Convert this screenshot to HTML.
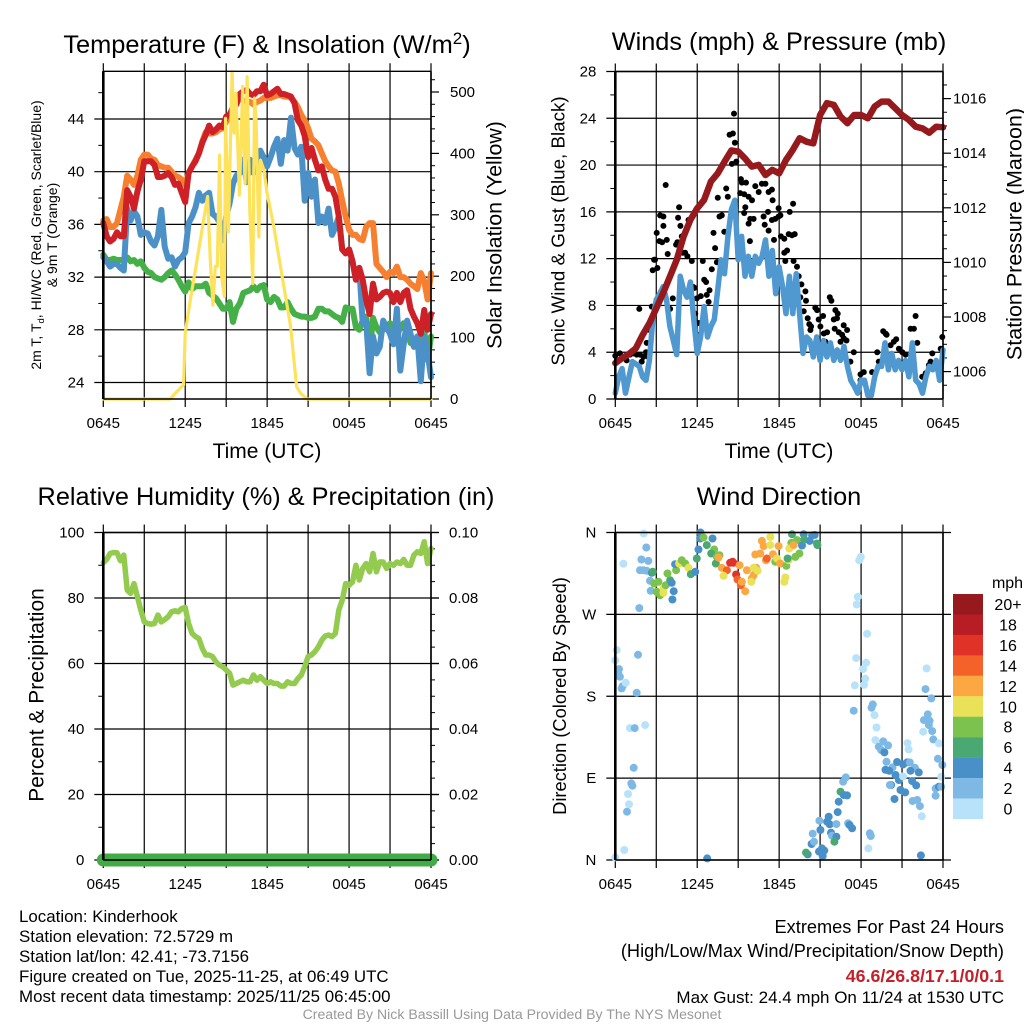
<!DOCTYPE html>
<html lang="en">
<head>
<meta charset="utf-8">
<title>Kinderhook Meteogram</title>
<style>
html,body{margin:0;padding:0;background:#fff;width:1024px;height:1024px;overflow:hidden}
svg{display:block}
text{font-family:"Liberation Sans",sans-serif;fill:#000}
</style>
</head>
<body>
<svg id="chart" xmlns="http://www.w3.org/2000/svg" width="1024" height="1024" viewBox="0 0 1024 1024">
<rect x="0" y="0" width="1024" height="1024" fill="#fff"/>

<text x="267" y="53" font-size="25.4" text-anchor="middle">Temperature (F) &amp; Insolation (W/m<tspan font-size="17" dy="-9">2</tspan><tspan dy="9">)</tspan></text>
<text x="779" y="50" font-size="25.3" text-anchor="middle">Winds (mph) &amp; Pressure (mb)</text>
<text x="266" y="505" font-size="25.3" text-anchor="middle">Relative Humidity (%) &amp; Precipitation (in)</text>
<text x="779" y="505" font-size="25.3" text-anchor="middle">Wind Direction</text>

<text transform="translate(41,235) rotate(-90)" font-size="14" text-anchor="middle">2m T, T<tspan font-size="9.5" dy="3">d</tspan><tspan dy="-3">, HI/WC (Red, Green, Scarlet/Blue)</tspan></text>
<text transform="translate(57,235) rotate(-90)" font-size="14" text-anchor="middle">&amp; 9m T (Orange)</text>
<text transform="translate(501.5,235) rotate(-90)" font-size="21.3" text-anchor="middle">Solar Insolation (Yellow)</text>
<text transform="translate(564.5,231) rotate(-90)" font-size="18.8" text-anchor="middle">Sonic Wind &amp; Gust (Blue, Black)</text>
<text transform="translate(1021.5,234) rotate(-90)" font-size="21.5" text-anchor="middle">Station Pressure (Maroon)</text>
<text transform="translate(43.5,695) rotate(-90)" font-size="21" text-anchor="middle">Percent &amp; Precipitation</text>
<text transform="translate(566,696) rotate(-90)" font-size="18.3" text-anchor="middle">Direction (Colored By Speed)</text>
<text x="267" y="458" font-size="21" text-anchor="middle">Time (UTC)</text>
<text x="779" y="458" font-size="21" text-anchor="middle">Time (UTC)</text>

<g id="panel-temp"></g>
<g id="panel-wind"></g>
<g id="panel-rh"></g>
<g id="panel-dir"></g>
<g id="legend"></g>

<g font-size="16.9">
<text x="19" y="922">Location: Kinderhook</text>
<text x="19" y="942">Station elevation: 72.5729 m</text>
<text x="19" y="962">Station lat/lon: 42.41; -73.7156</text>
<text x="19" y="982">Figure created on Tue, 2025-11-25, at 06:49 UTC</text>
<text x="19" y="1002">Most recent data timestamp: 2025/11/25 06:45:00</text>
</g>
<g text-anchor="end">
<text x="1004" y="933" font-size="18.2">Extremes For Past 24 Hours</text>
<text x="1004" y="957" font-size="18.2">(High/Low/Max Wind/Precipitation/Snow Depth)</text>
<text x="1004" y="982" font-size="17.8" font-weight="bold" style="fill:#c3202a">46.6/26.8/17.1/0/0.1</text>
<text x="1004" y="1003" font-size="17">Max Gust: 24.4 mph On 11/24 at 1530 UTC</text>
</g>
<text x="512" y="1019" font-size="14.1" text-anchor="middle" style="fill:#999">Created By Nick Bassill Using Data Provided By The NYS Mesonet</text>
</svg>

<script>
const timeLabels = ['0645', '1245', '1845', '0045', '0645'];
const timeLabelHours = [0, 6, 12, 18, 24];
const gridHours = [0, 3, 6, 9, 12, 15, 18, 21, 24];

const tempTicks = [24, 28, 32, 36, 40, 44];
const tempMinorTicks = [26, 30, 34, 38, 42, 46];
const solarTicks = [0, 100, 200, 300, 400, 500];
const solarMinorTicks = [20,40,60,80,120,140,160,180,220,240,260,280,320,340,360,380,420,440,460,480,520];
const windTicks = [0, 4, 8, 12, 16, 20, 24, 28];
const windMinorTicks = [2, 6, 10, 14, 18, 22, 26];
const pressureTicks = [1006, 1008, 1010, 1012, 1014, 1016];
const pressureMinorTicks = [1005.5,1006.5,1007,1007.5,1008.5,1009,1009.5,1010.5,1011,1011.5,1012.5,1013,1013.5,1014.5,1015,1015.5,1016.5];
const rhTicks = [0, 20, 40, 60, 80, 100];
const rhMinorTicks = [10, 30, 50, 70, 90];
const precipTicks = ['0.00', '0.02', '0.04', '0.06', '0.08', '0.10'];
const precipMinorTicks = [0.005,0.01,0.015,0.025,0.03,0.035,0.045,0.05,0.055,0.065,0.07,0.075,0.085,0.09,0.095];
const dirTicks = [0, 90, 180, 270, 360];
const dirLabels = ['N', 'E', 'S', 'W', 'N'];

const temp9m = [36.3,36.4,35.8,35.8,36.1,37.1,38.1,39.7,39.4,39.0,39.7,40.9,41.3,41.3,41.0,40.9,40.5,40.4,40.3,40.3,40.0,39.7,39.6,39.4,39.0,39.9,40.4,40.9,41.4,42.3,43.0,42.9,42.9,43.0,43.2,43.3,43.8,44.4,44.6,45.2,45.6,45.4,45.3,45.3,45.1,45.3,45.4,45.6,45.6,45.6,45.7,45.8,45.8,45.7,45.7,45.6,45.3,44.9,44.3,43.9,43.3,42.5,42.3,42.0,41.4,40.8,40.4,40.1,40.0,39.1,37.8,36.6,35.6,35.2,35.2,34.9,34.8,35.8,36.1,36.1,33.0,32.7,32.4,32.0,32.4,32.3,32.8,32.0,32.0,31.8,31.5,31.3,31.1,32.3,31.7,30.3,32.3];
const temp2m = [36.1,35.1,34.7,34.9,35.4,35.1,35.1,38.6,38.1,37.2,38.5,39.4,40.8,40.8,40.8,40.5,39.6,39.6,39.7,39.9,39.6,39.0,39.1,38.4,37.7,39.9,40.4,40.8,41.4,42.2,42.8,43.5,43.0,43.2,43.5,43.4,44.2,44.3,44.9,45.1,45.9,46.1,46.2,45.9,45.8,46.1,46.1,46.6,45.8,45.9,46.1,46.3,45.9,45.9,45.8,45.7,45.2,43.9,43.5,42.7,41.1,41.8,40.9,40.1,40.4,39.4,38.7,38.7,38.1,36.6,34.1,33.8,34.1,33.2,31.8,32.7,31.8,30.3,29.2,31.5,30.3,30.5,30.8,30.9,30.8,30.1,30.8,30.1,30.8,31.0,29.6,29.0,28.5,27.7,29.5,28.0,29.2];
const windChill = [33.5,33.2,32.8,33.0,33.0,32.7,32.5,37.2,36.3,37.0,36.6,35.2,35.4,35.3,34.7,34.4,35.1,37.1,34.3,33.4,33.5,32.8,33.3,33.5,33.9,36.1,36.6,37.3,38.4,37.8,38.2,38.4,36.8,36.6,36.2,34.8,36.6,37.6,39.1,39.7,39.9,40.9,39.2,40.9,39.9,40.9,41.6,41.1,40.4,41.1,41.9,42.5,40.6,42.4,41.6,44.1,41.8,41.3,41.9,37.8,39.9,38.1,39.4,36.1,36.6,36.1,37.2,35.2,35.8,36.6,34.1,33.8,34.1,33.2,31.8,32.7,28.5,28.7,24.7,27.5,26.2,26.7,28.7,28.2,27.7,26.9,29.6,24.9,26.9,28.7,27.7,26.7,27.5,24.1,27.5,26.2,24.4];
const dewPoint = [33.7,33.3,33.3,33.4,33.3,33.3,33.3,33.5,33.2,33.3,33.0,33.2,32.7,32.4,32.3,32.0,31.9,31.8,32.0,32.3,32.5,32.2,31.8,31.3,30.9,31.6,31.1,31.3,31.3,31.3,31.5,30.8,30.6,30.4,30.0,29.6,29.6,30.1,28.6,29.6,30.0,30.8,30.9,31.0,31.3,31.0,31.3,31.4,30.3,30.1,30.5,30.3,29.7,29.7,30.1,29.6,29.2,29.1,29.0,29.0,28.9,28.9,29.0,29.6,29.6,29.4,29.4,29.2,29.0,28.9,28.6,29.7,29.6,29.6,28.2,28.0,28.7,29.0,26.2,28.9,28.2,27.8,28.0,28.2,28.5,28.0,27.5,28.2,28.5,28.2,27.0,26.9,27.5,25.7,28.0,25.7,27.5];

const solarHours = [0,4.90,5.39,5.88,6.00,6.37,6.86,7.35,7.64,7.84,8.03,8.20,8.35,8.52,8.67,8.87,8.96,9.16,9.43,9.58,9.72,9.97,10.21,10.38,10.53,10.73,10.95,11.07,11.19,11.39,11.51,11.76,12.00,12.49,13.10,13.72,14.16,14.45,14.94,24];
const solarWatts = [0,0,12,23,107,161,226,292,330,226,153,216,216,397,199,167,457,272,533,433,498,332,509,351,525,308,188,490,454,264,389,373,335,281,199,118,20,9,0,0];

const pressureMb = [1006.31,1006.49,1006.65,1006.85,1007.34,1007.77,1008.32,1008.87,1009.48,1010.09,1010.95,1011.56,1011.98,1012.29,1012.96,1013.26,1013.69,1014.10,1014.06,1013.81,1013.51,1013.57,1013.20,1013.39,1013.26,1013.75,1014.12,1014.55,1014.42,1014.36,1015.40,1015.83,1015.77,1015.34,1015.10,1015.40,1015.40,1015.28,1015.71,1015.89,1015.89,1015.65,1015.40,1015.22,1014.97,1014.91,1014.75,1014.97,1014.95];
const sonicWind = [0.5,1.9,2.6,0.5,1.9,3.2,3.0,2.8,1.9,1.6,3.3,6.8,8.5,9.0,9.6,8.5,6.2,5.0,3.8,10.5,9.3,8.7,10.0,6.8,3.9,5.3,7.9,5.3,6.2,6.8,9.3,11.9,10.7,13.9,16.2,17.0,11.9,13.9,10.5,12.2,10.5,12.2,11.6,12.2,13.6,10.5,12.7,9.0,11.3,9.6,7.3,10.5,7.3,10.7,7.3,3.9,5.3,5.0,3.6,5.3,3.3,5.0,3.6,4.8,3.3,4.2,3.3,4.5,2.8,1.6,1.1,0.5,1.6,1.6,0.3,0.3,1.9,2.8,2.8,4.8,2.5,3.9,2.5,3.3,2.5,3.3,1.9,4.8,1.6,1.3,0.5,1.9,2.8,2.5,3.3,1.6,4.2];
const gustHours = [0,.34,.83,1.08,1.32,1.57,1.81,1.93,2.06,2.25,2.30,2.42,2.54,1.76,2.67,2.74,2.91,2.84,3.08,3.03,3.28,3.52,3.52,3.69,3.23,3.43,3.77,3.84,4.21,4.01,4.45,4.55,4.60,4.67,4.77,4.87,4.94,5.11,5.28,5.36,5.60,5.68,5.80,5.97,5.85,6.09,6.02,6.26,6.41,6.51,6.65,6.70,6.83,6.90,7.07,7.19,7.31,7.44,7.51,7.63,7.80,7.98,8.12,8.24,8.37,8.61,8.69,8.76,8.54,8.86,9.20,9.27,9.57,9.15,9.44,9.76,10.01,10.25,10.50,10.74,10.99,11.23,11.47,11.52,9.52,9.44,9.88,10.13,9.76,10.86,11.18,10.94,11.23,11.47,11.72,11.96,11.96,12.09,12.13,12.38,11.62,9.86,12.77,13.02,12.70,12.94,13.14,12.58,12.38,12.45,13.06,13.31,13.43,13.63,13.92,13.55,13.97,13.80,14.09,14.21,14.34,14.29,14.65,14.78,14.90,15.02,15.22,15.27,15.51,15.39,15.71,15.83,16.12,16.29,16.00,16.24,16.07,16.37,16.61,16.73,16.98,16.73,16.93,16.49,17.47,17.22,17.96,18.20,17.96,18.81,19.18,19.30,19.62,19.79,19.87,20.16,20.40,20.57,20.77,21.02,21.26,21.63,21.87,21.99,22.12,22.48,22.73,22.97,23.22,23.09,23.46,23.95,23.83];
const gustMph = [3.7,3.9,3.3,3.8,3.9,3.8,3.8,3.2,3.6,4.0,4.8,3.6,5.9,7.7,7.9,11.0,11.9,11.9,11.2,14.2,15.7,15.6,14.8,18.3,13.5,13.4,13.6,12.4,8.6,7.7,13.2,13.4,15.5,16.4,14.8,13.9,12.5,12.5,12.2,15.3,11.8,9.6,9.5,8.6,7.3,6.5,5.5,8.8,11.8,10.2,10.0,8.9,8.3,9.3,11.1,14.2,12.9,11.7,17.2,15.6,15.7,14.3,18.0,17.3,22.6,22.7,24.4,21.9,20.1,20.3,18.8,18.5,18.5,17.6,17.5,17.3,17.0,18.2,17.7,18.4,18.4,17.7,17.9,17.0,16.4,15.9,15.4,15.4,15.0,15.6,16.0,14.9,14.4,15.3,15.4,15.6,16.3,15.7,13.9,13.7,13.6,13.5,16.0,16.7,14.1,14.0,14.1,12.7,12.5,11.8,11.8,11.3,10.5,9.8,9.2,8.7,8.4,7.5,6.9,6.4,6.2,5.9,7.8,7.6,6.8,6.2,7.1,5.6,5.7,4.9,8.7,8.4,7.6,7.3,6.8,6.9,6.0,5.7,5.5,6.3,5.9,5.2,5.0,4.9,4.0,3.2,1.6,2.3,2.1,2.3,4.0,3.2,5.8,5.6,5.5,4.6,4.9,5.1,4.3,4.0,3.8,6.0,6.0,7.1,4.8,1.9,2.2,2.9,3.9,3.2,2.8,5.3,4.3];

const relHumidity = [90.8,91.8,93.6,93.9,93.8,91.4,93.1,82.4,81.4,84.4,80.4,76.3,72.7,72.2,72.0,72.2,74.8,72.7,73.4,74.3,75.8,76.1,75.8,76.8,77.1,72.2,69.2,68.2,67.6,64.6,62.6,62.6,62.1,60.5,59.5,59.0,58.0,57.0,53.4,53.9,54.4,54.9,54.4,54.4,56.5,54.9,56.0,54.9,53.9,54.4,53.9,53.9,53.1,53.1,54.4,53.9,53.9,55.4,56.5,59.0,62.1,62.6,63.6,65.1,67.1,68.4,68.7,68.2,69.2,76.3,79.3,84.4,83.9,84.9,90.0,85.5,89.0,90.5,88.0,93.6,88.0,91.0,91.0,89.0,90.5,90.0,91.0,90.5,91.8,90.0,90.0,93.1,94.1,93.6,97.2,90.5,95.1];
const precipInches = [0,0,0,0,0,0,0,0,0,0,0,0,0,0,0,0,0,0,0,0,0,0,0,0,0];

const dirHours = [0,.66,.86,1.00,.93,1.25,1.17,1.35,1.08,1.42,2.18,1.57,.46,.54,.76,.34,.27,.22,0,.10,1.66,1.76,.59,2.08,2.27,1.91,2.42,1.81,2.05,2.30,2.67,2.74,2.54,2.59,2.84,3.16,3.03,3.28,3.52,3.52,3.69,4.01,4.13,4.28,4.18,3.82,4.45,4.38,4.67,4.87,5.11,5.36,5.53,5.85,5.97,6.09,6.24,6.21,6.46,6.70,7.12,7.24,7.02,7.44,7.63,7.36,7.56,7.80,8.17,8.41,8.59,8.66,9.10,8.85,8.95,9.20,9.27,9.51,7.93,9.64,10.00,10.13,9.96,10.32,10.42,10.13,10.25,10.62,10.74,10.86,11.03,11.10,11.35,11.35,11.55,11.72,11.96,11.84,12.08,12.52,12.69,12.38,12.45,12.62,12.94,12.89,13.31,12.74,13.06,13.48,13.18,13.67,13.80,13.84,14.24,14.60,14.41,14.77,14.80,6.73,14.09,13.97,14.38,14.55,14.46,14.95,15.02,14.92,15.14,15.31,15.19,15.51,15.63,15.70,16.19,16.29,16.36,15.80,15.87,16.19,16.05,16.49,16.73,16.98,16.68,16.88,17.05,17.15,17.34,18.64,18.71,18.54,17.98,17.86,17.76,17.68,18.44,17.64,18.37,18.15,18.30,18.22,17.54,17.46,18.86,18.76,18.98,19.13,19.05,19.62,19.30,19.47,19.71,19.98,19.86,19.79,20.30,20.06,20.64,21.08,21.38,21.57,21.94,21.62,22.23,20.52,20.77,21.08,20.20,20.11,21.74,22.04,20.89,21.23,20.45,21.77,22.11,22.31,22.45,22.38,21.40,21.48,22.80,22.72,23.14,22.89,22.60,23.02,22.97,22.55,23.21,23.29,23.70,23.63,23.95,23.87,23.46,23.70,23.87,23.46];
const dirDegrees = [2.9,11.0,53.1,61.2,72.5,81.7,84.2,101.4,145.0,145.0,148.3,183.8,188.6,191.2,194.8,201.4,209.8,205.1,219.4,230.7,225.6,276.9,325.6,358.9,343.5,330.3,328.8,318.6,318.6,317.9,315.7,316.8,306.9,295.9,303.9,305.8,294.8,291.1,298.5,293.7,302.1,307.6,304.7,295.5,286.4,314.9,318.6,325.2,325.9,329.6,325.9,321.2,314.2,316.8,331.4,341.3,360,353.4,354.5,346.1,353.4,341.3,336.9,333.2,335.1,325.9,332.5,321.2,318.6,326.7,327.8,326.7,324.1,313.8,308.3,302.1,305.8,295.5,312.4,318.6,309.4,313.1,305.8,321.2,317.9,321.2,335.8,336.9,350.8,345.0,329.6,331.4,355.2,346.1,336.2,327.8,345.0,331.4,325.9,323.4,329.6,305.8,310.5,331.4,358.1,348.6,351.6,342.4,346.1,336.9,333.2,345.7,358.1,352.3,350.8,357.4,357.0,347.9,346.1,1.8,6.2,8.1,17.6,20.1,28.9,43.2,33.0,9.2,12.8,10.3,4.4,42.1,47.6,39.2,39.5,52.7,64.1,30.0,26.7,25.6,20.1,75.1,71.4,71.0,86.1,90.8,40.3,38.5,34.8,29.3,26.4,12.8,333.2,329.6,289.3,280.9,248.7,221.9,216.8,209.8,199.2,192.6,191.9,164.1,171.0,167.4,159.3,145.7,131.8,130.4,124.5,120.8,118.3,126.0,108.0,99.2,101.8,98.1,107.7,105.1,107.3,107.3,101.4,98.1,96.3,93.4,87.9,91.9,82.4,82.4,86.8,82.0,76.9,74.3,67.0,64.8,65.9,59.3,48.0,5.1,128.5,121.6,210.6,187.9,177.6,160.0,153.8,153.1,148.3,141.0,141.7,132.6,128.2,111.3,104.4,91.6,78.7,80.6,80.6,70.7];
const dirSpeeds = [0,0,2,0,0,2,2,2,0,2,0,2,2,2,0,2,2,2,0,0,2,2,0,0,2,2,2,2,2,2,4,6,2,2,8,8,8,8,10,10,8,6,4,4,4,8,8,4,10,8,8,10,6,4,6,4,4,4,8,6,4,8,6,8,8,6,12,12,14,16,16,16,12,16,14,14,12,12,10,12,12,12,10,12,10,10,12,12,12,12,12,14,10,10,12,8,12,10,12,8,10,10,10,6,6,8,8,10,12,8,8,4,4,6,4,4,4,6,6,4,4,6,4,2,2,2,4,4,4,4,4,4,4,4,2,4,4,4,2,4,6,6,4,4,2,2,2,4,4,2,2,0,0,0,0,0,0,0,0,0,0,0,0,2,2,2,0,0,0,2,2,2,4,2,2,4,2,4,4,4,4,2,2,4,4,4,4,0,4,2,4,4,4,4,4,2,2,2,0,4,0,0,0,2,2,2,2,2,2,0,2,2,0,2,2,0,2,4,2,2,2,2,2];

const legendLabels = ['20+', '18', '16', '14', '12', '10', '8', '6', '4', '2', '0'];
const legendColors = ['#961a1d', '#b81c25', '#e03227', '#f46229', '#fba843', '#e9e157', '#7cc24e', '#4aa973', '#4a90c8', '#7eb9e6', '#b8e2f9'];

const NS = 'http://www.w3.org/2000/svg';

function linearScale(d0, d1, r0, r1) {
  return function (v) { return r0 + (v - d0) * (r1 - r0) / (d1 - d0); };
}
function el(parent, tag, attrs) {
  const n = document.createElementNS(NS, tag);
  for (const k in attrs) n.setAttribute(k, attrs[k]);
  parent.appendChild(n);
  return n;
}
function drawGuide(parent, x1, y1, x2, y2, width, name) {
  const n = el(parent, 'line', { x1: x1, y1: y1, x2: x2, y2: y2, stroke: '#000', 'stroke-width': width });
  
  
}
function drawLabel(parent, x, y, anchor, str, name) {
  const n = el(parent, 'text', { x: x, y: y, 'text-anchor': anchor, 'font-size': 15 });
  n.textContent = str;
  
  
}
function drawSeries(parent, xs, ys, color, width, name) {
  const pts = xs.map(function (x, i) { return x.toFixed(1) + ',' + ys[i].toFixed(1); }).join(' ');
  const n = el(parent, 'polyline', { points: pts, fill: 'none', stroke: color, 'stroke-width': width, 'stroke-linejoin': 'round', 'stroke-linecap': 'round' });
  
  
}
function evenHours(values) {
  return values.map(function (v, i) { return i * 24 / (values.length - 1); });
}

function drawFrame(g, box, xScale, opts) {
  const under = el(g, 'g', {});
  
  
  gridHours.forEach(function (h) {
    drawGuide(under, xScale(h), box.top - 8, xScale(h), box.bottom + 8, 1.2, 'vertical-grid-line');
  });
  opts.leftTicks.forEach(function (t, i) {
    const y = opts.leftScale(t);
    drawGuide(under, box.left - 9, y, box.right + opts.gridOut, y, 1.2, 'horizontal-grid-line');
    drawLabel(under, box.left - 19, y + 5, 'end', opts.leftLabels ? opts.leftLabels[i] : String(t), 'left-tick-label');
  });
  (opts.leftMinor || []).forEach(function (t) {
    drawGuide(under, box.left - 5, opts.leftScale(t), box.left, opts.leftScale(t), 1, 'left-minor-tick');
  });
  (opts.rightTicks || []).forEach(function (t, i) {
    const y = opts.rightScale(parseFloat(t));
    drawGuide(under, box.right, y, box.right + 8, y, 1.2, 'right-major-tick');
    drawLabel(under, box.right + opts.rightPad, y + 5, 'start', String(t), 'right-tick-label');
  });
  (opts.rightMinor || []).forEach(function (t) {
    drawGuide(under, box.right, opts.rightScale(t), box.right + 4, opts.rightScale(t), 1, 'right-minor-tick');
  });
  timeLabels.forEach(function (lab, i) {
    drawLabel(under, xScale(timeLabelHours[i]), box.bottom + 29, 'middle', lab, 'time-tick-label');
  });
}
function drawSpines(g, box) {
  drawGuide(g, box.left, box.top, box.left, box.bottom, 2.6, 'left-spine');
  drawGuide(g, box.right, box.top, box.right, box.bottom, 1.6, 'right-spine');
  drawGuide(g, box.left, box.top, box.right, box.top, 1.4, 'top-spine');
  drawGuide(g, box.left, box.bottom, box.right, box.bottom, 1.4, 'bottom-spine');
}

/* Temperature and insolation */
(function () {
  const g = document.getElementById('panel-temp');
  const box = { left: 103.3, right: 431, top: 71.3, bottom: 399 };
  const x = linearScale(0, 24, box.left, box.right);
  const yT = linearScale(24, 44, 382.5, 119);
  const yS = linearScale(0, 500, 399, 92);
  drawFrame(g, box, x, { leftScale: yT, leftTicks: tempTicks, leftMinor: tempMinorTicks, rightScale: yS, rightTicks: solarTicks, rightMinor: solarMinorTicks, rightPad: 19, gridOut: 0 });
  [[dewPoint, '#45b048', 'dew-point-line'], [temp9m, '#f6802f', 'temperature-9m-line'], [windChill, '#4b91c8', 'wind-chill-line'], [temp2m, '#ce2127', 'temperature-2m-line']].forEach(function (s) {
    drawSeries(g, evenHours(s[0]).map(x), s[0].map(yT), s[1], 6, s[2]);
  });
  drawSeries(g, solarHours.map(x), solarWatts.map(yS), '#fde25b', 3.2, 'solar-insolation-line');
  drawSpines(g, box);
})();

/* Winds and pressure */
(function () {
  const g = document.getElementById('panel-wind');
  const box = { left: 615.3, right: 943, top: 71.5, bottom: 399 };
  const x = linearScale(0, 24, box.left, box.right);
  const yW = linearScale(0, 28, 399, 71.5);
  const yP = linearScale(1006, 1016, 371.6, 98.6);
  drawFrame(g, box, x, { leftScale: yW, leftTicks: windTicks, leftMinor: windMinorTicks, rightScale: yP, rightTicks: pressureTicks, rightMinor: pressureMinorTicks, rightPad: 10, gridOut: 0 });
  gustHours.forEach(function (h, i) {
    const c = el(g, 'circle', { cx: x(h).toFixed(1), cy: yW(gustMph[i]).toFixed(1), r: 3, fill: '#000' });
    
    
  });
  drawSeries(g, evenHours(sonicWind).map(x), sonicWind.map(yW), '#5098d0', 5.5, 'sonic-wind-line');
  drawSeries(g, evenHours(pressureMb).map(x), pressureMb.map(yP), '#961a1d', 6.5, 'station-pressure-line');
  drawSpines(g, box);
})();

/* Humidity and precipitation */
(function () {
  const g = document.getElementById('panel-rh');
  const box = { left: 103.3, right: 431, top: 532.5, bottom: 860 };
  const x = linearScale(0, 24, box.left, box.right);
  const yR = linearScale(0, 100, 860, 532.5);
  const yI = linearScale(0, 0.1, 860, 532.5);
  drawFrame(g, box, x, { leftScale: yR, leftTicks: rhTicks, leftMinor: rhMinorTicks, rightScale: yI, rightTicks: precipTicks, rightMinor: precipMinorTicks, rightPad: 18, gridOut: 8 });
  drawSeries(g, evenHours(relHumidity).map(x), relHumidity.map(yR), '#93cb4f', 5.5, 'relative-humidity-line');
  drawSeries(g, evenHours(precipInches).map(x), precipInches.map(yI), '#41ab45', 13, 'precipitation-line');
  drawSpines(g, box);
})();

/* Wind direction */
(function () {
  const g = document.getElementById('panel-dir');
  const box = { left: 615.3, right: 943, top: 532.5, bottom: 860 };
  const x = linearScale(0, 24, box.left, box.right);
  const y = linearScale(0, 360, 860, 532.5);
  drawFrame(g, box, x, { leftScale: y, leftTicks: dirTicks, leftLabels: dirLabels, gridOut: 8 });
  dirHours.forEach(function (h, i) {
    const colorIndex = legendLabels.length - 1 - Math.min(10, Math.round(dirSpeeds[i] / 2));
    const c = el(g, 'circle', { cx: x(h).toFixed(1), cy: y(dirDegrees[i]).toFixed(1), r: 4, fill: legendColors[colorIndex] });
    
    
  });
  drawSpines(g, box);
})();

/* Legend */
(function () {
  const g = document.getElementById('legend');
  const title = el(g, 'text', { x: 1007.5, y: 588, 'text-anchor': 'middle', 'font-size': 16 });
  title.textContent = 'mph';
  
  
  legendLabels.forEach(function (lab, i) {
    const top = 594 + i * 20.45;
    const r = el(g, 'rect', { x: 953, y: top.toFixed(2), width: 30, height: 20.6, fill: legendColors[i] });
    
    
    const t = el(g, 'text', { x: 1008, y: (top + 16).toFixed(2), 'text-anchor': 'middle', 'font-size': 16 });
    t.textContent = lab;
    
    
  });
})();
</script>
</body>
</html>
